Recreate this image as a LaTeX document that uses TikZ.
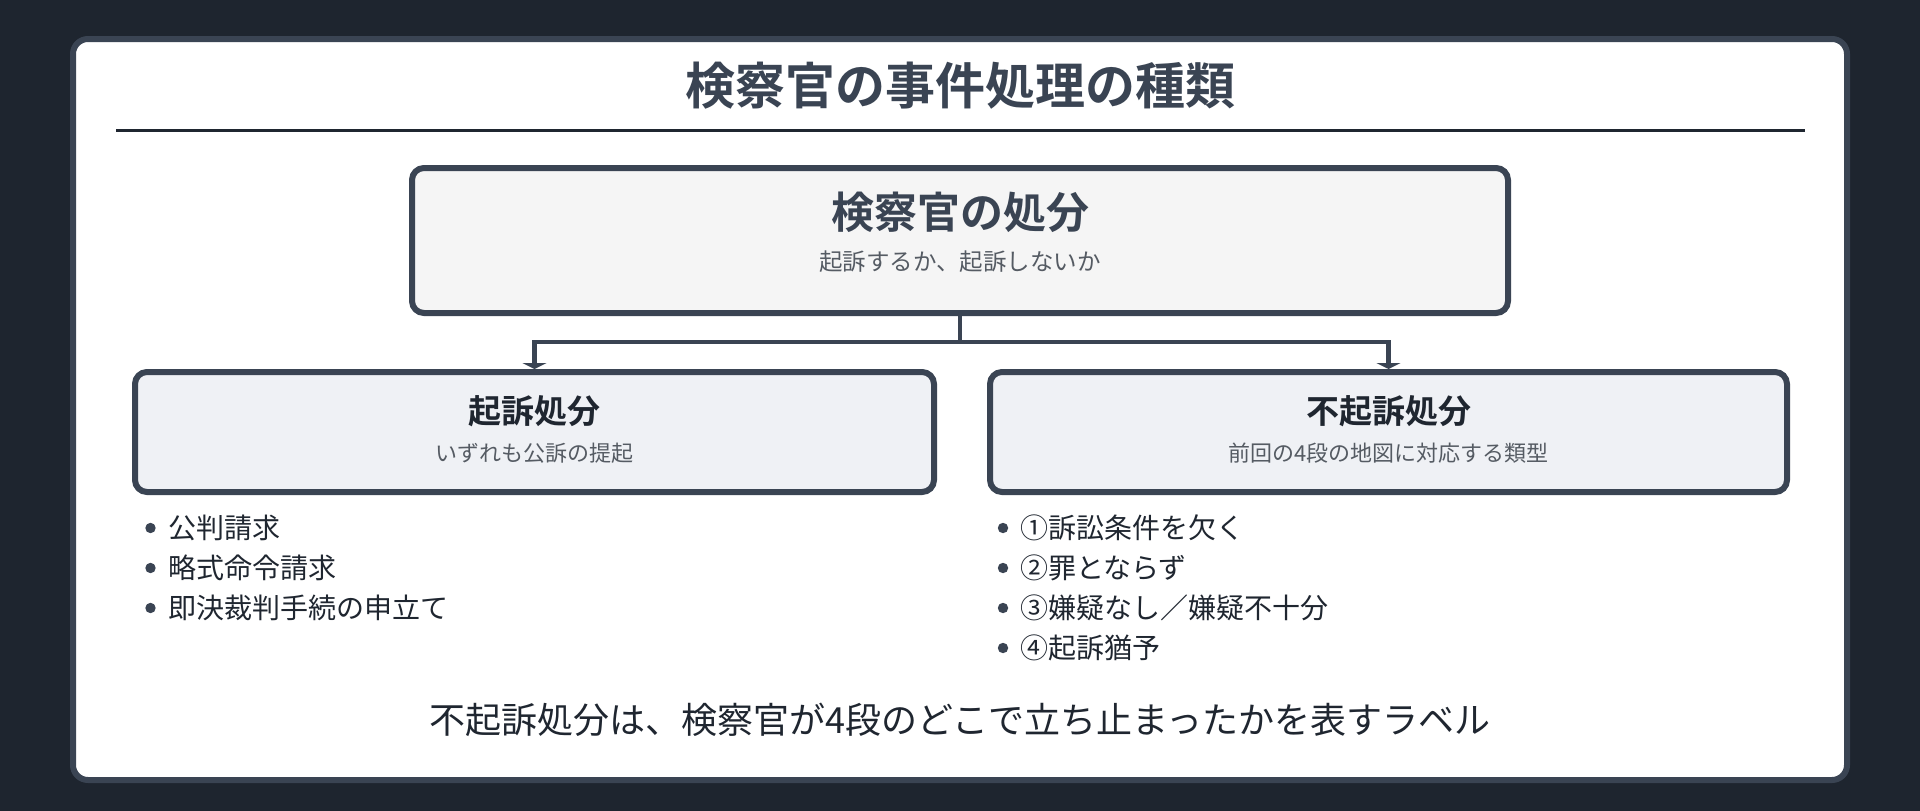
\documentclass[tikz,border=0pt]{standalone}
\usepackage{fontspec}
\setmainfont{Noto Sans CJK JP}[BoldFont={Noto Sans CJK JP Bold}]
\usetikzlibrary{arrows.meta}
\pgfdeclarelayer{behind}
\pgfsetlayers{behind,main}
\definecolor{bgdark}{HTML}{1E252F}
\definecolor{edge}{HTML}{3A4453}
\definecolor{inkdark}{HTML}{1F2630}
\definecolor{inkgray}{HTML}{555B63}
\definecolor{topfill}{HTML}{F5F5F5}
\definecolor{subfill}{HTML}{EFF1F5}
\tikzset{
  boxstyle/.style={draw=edge, line width=6pt, rounded corners=12pt, inner sep=0pt},
  connline/.style={draw=edge, line width=4.5pt},
  conn/.style={connline, -{Triangle[width=24pt,length=6pt]}},
  bulletdot/.style={fill=edge},
  itemtext/.style={anchor=west, inner sep=0pt, text=inkdark, font=\fontsize{28}{31}\selectfont},
}
\begin{document}
\begin{tikzpicture}[x=1pt,y=-1pt]
\useasboundingbox (0,0) rectangle (1920,811);
\begin{pgfonlayer}{behind}
\fill[bgdark] (0,0) rectangle (1920,811);
\draw[draw=edge, line width=6pt, fill=white, rounded corners=15pt] (73,39) rectangle (1847,780);
\end{pgfonlayer}
% title
\node[text=edge, font=\fontsize{50}{56}\bfseries\selectfont, inner sep=0pt] (title) at (960,86) {検察官の事件処理の種類};
\coordinate (ruleL) at (116,130.5);
\coordinate (ruleR) at (1805,130.5);
\draw[draw=inkdark, line width=3pt] (ruleL) -- (ruleR);
% boxes
\node[boxstyle, fill=topfill, minimum width=1096pt, minimum height=145pt] (top) at (960,240.5) {};
\node[text=edge, font=\fontsize{43}{50}\bfseries\selectfont, inner sep=0pt] (toptitle) at (960,212) {検察官の処分};
\node[text=inkgray, font=\fontsize{23.5}{28}\selectfont, inner sep=0pt] (topsub) at (960,262) {起訴するか、起訴しないか};

\node[boxstyle, fill=subfill, minimum width=799pt, minimum height=120pt] (lbox) at (534.5,432) {};
\node[text=inkdark, font=\fontsize{33}{40}\bfseries\selectfont, inner sep=0pt] (ltitle) at (534.5,411) {起訴処分};
\node[text=inkgray, font=\fontsize{22}{26}\selectfont, inner sep=0pt] (lsub) at (534.5,453) {いずれも公訴の提起};

\node[boxstyle, fill=subfill, minimum width=797pt, minimum height=120pt] (rbox) at (1388.5,432) {};
\node[text=inkdark, font=\fontsize{33}{40}\bfseries\selectfont, inner sep=0pt] (rtitle) at (1388.5,411) {不起訴処分};
\node[text=inkgray, font=\fontsize{22}{26}\selectfont, inner sep=0pt] (rsub) at (1388.5,453) {前回の4段の地図に対応する類型};

% connectors (behind the boxes)
\begin{pgfonlayer}{behind}
\coordinate (junc) at (960,342);
\draw[connline] (top.south) -- (junc);
\draw[conn] (junc) -| (lbox.north);
\draw[conn] (junc) -| (rbox.north);
\end{pgfonlayer}

% left list
\foreach \yy/\txt/\nm in {528/公判請求/la, 568/略式命令請求/lb, 608/即決裁判手続の申立て/lc}{
  \fill[bulletdot] (150.5,\yy) circle (5.2pt);
  \node[itemtext] (\nm) at (168,\yy) {\txt};
}
% right list
\foreach \yy/\txt/\nm in {528/①訴訟条件を欠く/ra, 568/②罪とならず/rb, 608/③嫌疑なし／嫌疑不十分/rc, 648/④起訴猶予/rd}{
  \fill[bulletdot] (1003,\yy) circle (5.2pt);
  \node[itemtext] (\nm) at (1020,\yy) {\txt};
}
% footer
\node[text=inkdark, font=\fontsize{36}{42}\selectfont, inner sep=0pt] (foot) at (960,720) {不起訴処分は、検察官が4段のどこで立ち止まったかを表すラベル};
\end{tikzpicture}
\end{document}
